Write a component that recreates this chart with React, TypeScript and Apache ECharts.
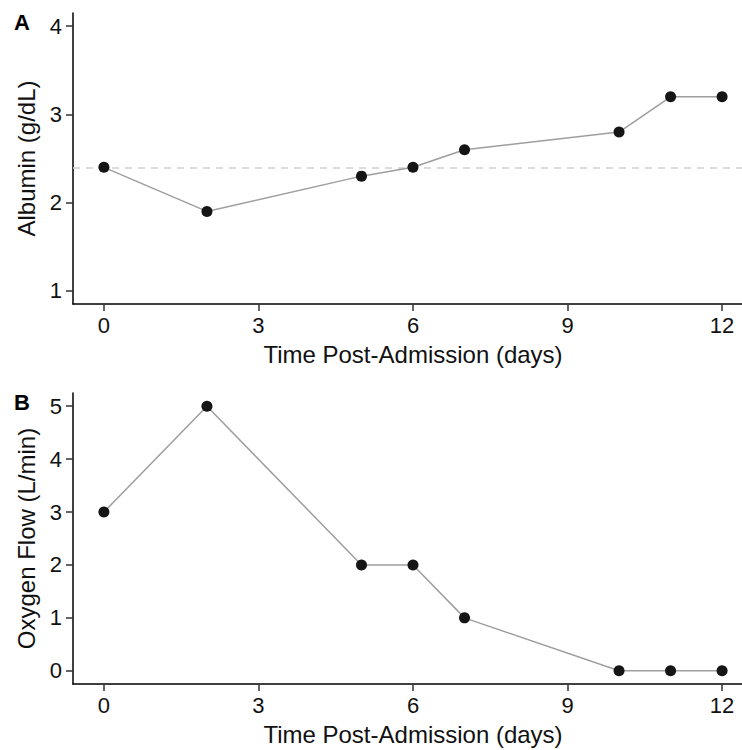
import React, { useEffect, useRef } from "react";
import * as echarts from "echarts";

const days = [0, 2, 5, 6, 7, 10, 11, 12];
const albumin = [2.4, 1.9, 2.3, 2.4, 2.6, 2.8, 3.2, 3.2];
const oxygen = [3, 5, 2, 2, 1, 0, 0, 0];
const albuminRef = 2.4;
const xTicks = [0, 3, 6, 9, 12];
const albuminTicks = [1, 2, 3, 4];
const oxygenTicks = [0, 1, 2, 3, 4, 5];

const FONT = "Liberation Sans, Arial, Helvetica, sans-serif";

export default function App() {
  const ref = useRef<HTMLDivElement>(null);
  useEffect(() => {
    if (!ref.current) return;
    const chart = echarts.init(ref.current, null, { renderer: "svg" });
    const axisLine = { show: true, onZero: false, lineStyle: { color: "#000", width: 1.5 } };
    const axisTick = (vals: number[]) => ({
      show: true,
      length: 7,
      lineStyle: { color: "#333", width: 1.5 },
      customValues: vals,
    });
    const label = (vals: number[], margin: number) => ({
      color: "#111",
      fontSize: 22,
      fontFamily: FONT,
      margin,
      customValues: vals,
    });
    const nameStyle = { color: "#111", fontSize: 24, fontFamily: FONT };
    const xAxis = (gridIndex: number) => ({
      type: "value",
      gridIndex,
      min: -0.6,
      max: 12.6,
      axisLine,
      axisTick: axisTick(xTicks),
      axisLabel: label(xTicks, 10),
      splitLine: { show: false },
      name: "Time Post-Admission (days)",
      nameLocation: "middle",
      nameGap: 38,
      nameTextStyle: nameStyle,
    });
    const pointsA = days.map((d, i) => [d, albumin[i]]);
    const pointsB = days.map((d, i) => [d, oxygen[i]]);
    chart.setOption({
      animation: false,
      backgroundColor: "#fff",
      grid: [
        { left: 73, top: 13, height: 291, right: 0 },
        { left: 73, top: 393, height: 291, right: 0 },
      ],
      xAxis: [xAxis(0), xAxis(1)],
      yAxis: [
        {
          type: "value",
          gridIndex: 0,
          min: 0.85,
          max: 4.15,
          axisLine,
          axisTick: axisTick(albuminTicks),
          axisLabel: label(albuminTicks, 11),
          splitLine: { show: false },
          name: "Albumin (g/dL)",
          nameLocation: "middle",
          nameGap: 34,
          nameRotate: 90,
          nameTextStyle: nameStyle,
        },
        {
          type: "value",
          gridIndex: 1,
          min: -0.25,
          max: 5.25,
          axisLine,
          axisTick: axisTick(oxygenTicks),
          axisLabel: label(oxygenTicks, 11),
          splitLine: { show: false },
          name: "Oxygen Flow (L/min)",
          nameLocation: "middle",
          nameGap: 34,
          nameRotate: 90,
          nameTextStyle: nameStyle,
        },
      ],
      graphic: [
        {
          type: "text",
          x: 22,
          y: 22,
          style: {
            text: "A",
            fontSize: 22,
            fontWeight: "bold",
            fontFamily: FONT,
            fill: "#000",
            align: "center",
            verticalAlign: "middle",
          },
        },
        {
          type: "text",
          x: 22,
          y: 402,
          style: {
            text: "B",
            fontSize: 22,
            fontWeight: "bold",
            fontFamily: FONT,
            fill: "#000",
            align: "center",
            verticalAlign: "middle",
          },
        },
      ],
      series: [
        {
          type: "line",
          xAxisIndex: 0,
          yAxisIndex: 0,
          data: pointsA,
          symbol: "circle",
          symbolSize: 11,
          itemStyle: { color: "#151515" },
          lineStyle: { color: "#9e9e9e", width: 1.5 },
          z: 3,
          markLine: {
            silent: true,
            symbol: "none",
            label: { show: false },
            lineStyle: { color: "#cfcfcf", type: [7, 6], width: 1.5 },
            data: [{ yAxis: albuminRef }],
            z: 1,
          },
        },
        {
          type: "line",
          xAxisIndex: 1,
          yAxisIndex: 1,
          data: pointsB,
          symbol: "circle",
          symbolSize: 11,
          itemStyle: { color: "#151515" },
          lineStyle: { color: "#9e9e9e", width: 1.5 },
          z: 3,
        },
      ],
    });
    return () => chart.dispose();
  }, []);
  return (
    <div
      style={{
        position: "fixed",
        left: 0,
        top: 0,
        width: 742,
        height: 750,
        overflow: "hidden",
        background: "#fff",
      }}
    >
      <div ref={ref} style={{ width: 753, height: 750 }} />
    </div>
  );
}
